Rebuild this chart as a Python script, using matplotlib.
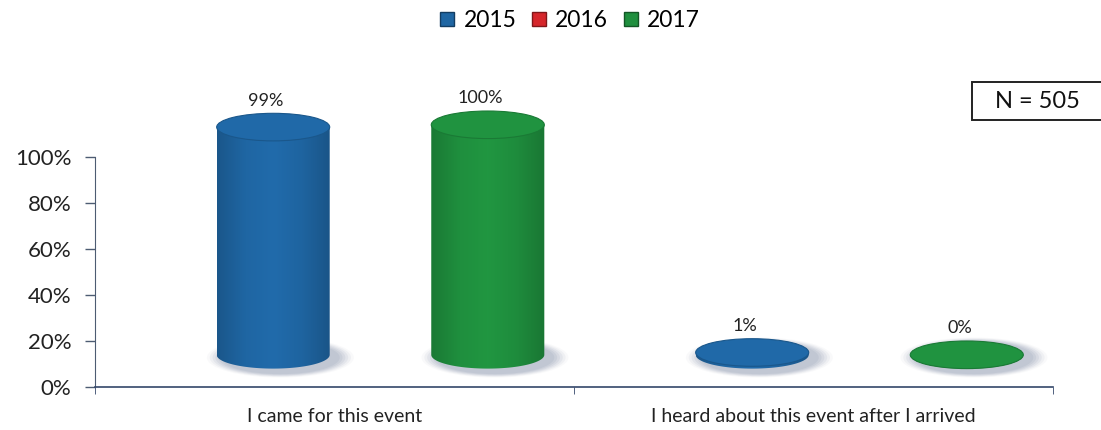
import numpy as np
import matplotlib.pyplot as plt
from matplotlib.path import Path
from matplotlib.patches import PathPatch, Ellipse, Rectangle
from matplotlib.lines import Line2D
from matplotlib.colors import LinearSegmentedColormap, to_rgb

plt.rcParams['font.family'] = ['Lato', 'DejaVu Sans']

categories = ["I came for this event", "I heard about this event after I arrived"]
years = ["2015", "2016", "2017"]
vals_2015 = [99, 1]
vals_2016 = [None, None]
vals_2017 = [100, 0]
sample_note = "N = 505"

colors = {"2015": "#1f66a3", "2016": "#d6262b", "2017": "#1f8f3e"}
series = {"2015": vals_2015, "2016": vals_2016, "2017": vals_2017}

offsets = {"2015": -0.226, "2016": 0.0, "2017": 0.222}
bar_w = 0.236
depth_x, depth_y = 0.098, 14.0   # fake 3d depth shift
ell_h = 12.0

fig = plt.figure(figsize=(11.01, 4.30), dpi=100)
ax = fig.add_axes([95 / 1101, 43 / 430, (1053 - 95) / 1101, 299 / 430])
ax.set_xlim(-0.5, 1.5)
ax.set_ylim(0, 130)


def shade(c, k):
    return np.clip(np.array(to_rgb(c)) * k, 0, 1)


def cylinder(xc, val, color, label):
    x0, x1 = xc - bar_w / 2, xc + bar_w / 2
    base = depth_y
    top = base + val
    eh = ell_h

    # soft shadow under the base
    for i, a in enumerate(np.linspace(0.12, 0.5, 6)):
        s = 1.3 - i * 0.05
        ax.add_patch(Ellipse((xc + 0.015, base - 1.2), bar_w * s, eh * (s + 0.15),
                             facecolor="#aab3c4", edgecolor="none", alpha=a * 0.6, zorder=2))

    cmap = LinearSegmentedColormap.from_list(
        "cyl", [shade(color, 0.85), shade(color, 1.0), shade(color, 1.05),
                shade(color, 0.98), shade(color, 0.83)])
    grad = np.linspace(0, 1, 200)[None, :]

    # body: rectangle plus the lower half of the base ellipse
    t = np.linspace(0, np.pi, 60)
    arc = np.column_stack([xc + bar_w / 2 * np.cos(t), base - eh / 2 * np.sin(t)])
    verts = np.vstack([[x1, top], [x0, top], arc[::-1], [x1, top]])
    body = PathPatch(Path(verts), facecolor="none", edgecolor="none", zorder=3)
    ax.add_patch(body)
    im = ax.imshow(grad, cmap=cmap, extent=(x0, x1, base - eh / 2, top),
                   aspect="auto", zorder=3, interpolation="bicubic")
    im.set_clip_path(body)

    ax.add_patch(Ellipse((xc, top), bar_w, eh, facecolor=shade(color, 1.03),
                         edgecolor=shade(color, 0.85), lw=0.8, zorder=4))

    ax.text(xc - 0.015, top + eh / 2 + 2, label, ha="center", va="bottom",
            fontsize=13, color="#222222", zorder=5)


for yr in years:
    for i, v in enumerate(series[yr]):
        if v is None:
            continue
        cylinder(i + offsets[yr] + depth_x, v, colors[yr], f"{v}%")

# axes styling
for side in ["top", "right"]:
    ax.spines[side].set_visible(False)
ax.spines["left"].set_bounds(0, 100)
ax.spines["left"].set_color("#4d5c72")
ax.spines["bottom"].set_color("#34476a")
ax.spines["bottom"].set_linewidth(1.2)

ax.set_yticks(np.arange(0, 101, 20))
ax.set_yticklabels([f"{t}%" for t in range(0, 101, 20)], fontsize=16, color="#222222")
ax.tick_params(axis="y", length=7, width=1, color="#4d5c72", pad=10)

ax.set_xticks([0, 1])
ax.set_xticklabels(categories, fontsize=14, color="#222222")
ax.set_xticks([-0.5, 0.5, 1.5], minor=True)
ax.tick_params(axis="x", which="major", length=0, pad=15)
ax.tick_params(axis="x", which="minor", length=5, color="#34476a")

# legend
handles = [Line2D([], [], marker="s", linestyle="none", markersize=10,
                  markerfacecolor=colors[y], markeredgecolor=shade(colors[y], 0.6),
                  markeredgewidth=1) for y in years]
fig.legend(handles, years, loc="upper center", bbox_to_anchor=(0.517, 1.025), ncol=3,
           frameon=False, fontsize=16.5, handlelength=0.8, handletextpad=0.3,
           columnspacing=0.6)

# sample size box, running off the right edge
fig.add_artist(Rectangle((972 / 1101, 1 - 120 / 430), 0.2, 38 / 430, transform=fig.transFigure,
                         facecolor="white", edgecolor="#222222", lw=1.4))
fig.text(1037 / 1101, 1 - 101 / 430, sample_note, ha="center", va="center", fontsize=17,
         color="#111111")

fig.savefig("out.png", dpi=100)
